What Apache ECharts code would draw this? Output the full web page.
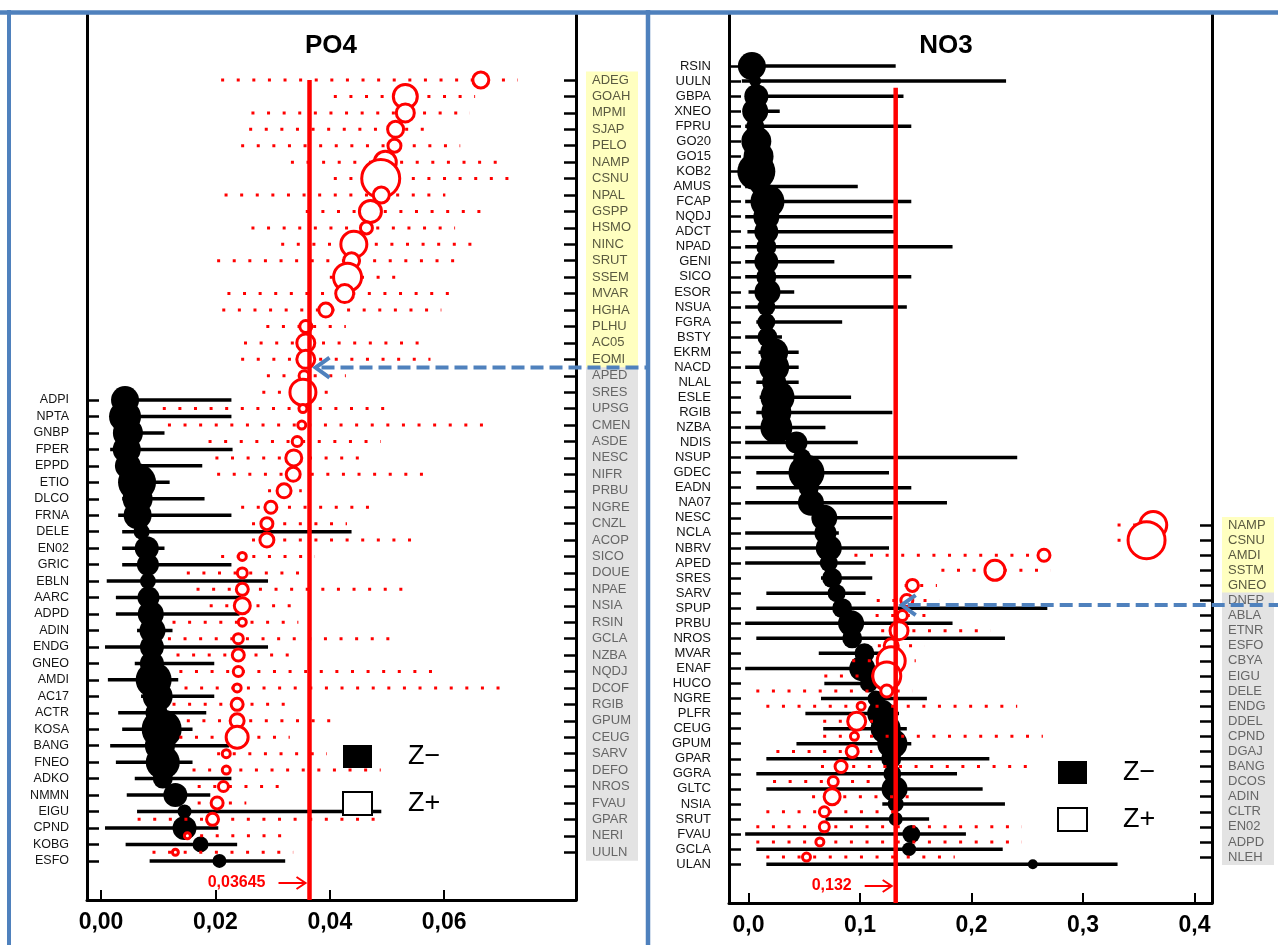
<!DOCTYPE html>
<html>
<head>
<meta charset="utf-8">
<script src="https://cdn.jsdelivr.net/npm/echarts@6/dist/echarts.min.js"></script>
<style>html,body{margin:0;padding:0;background:#fff;}#chart{width:1278px;height:945px;}</style>
</head>
<body>
<div id="chart"></div>
<script>
// ---------------- DATA ----------------
const po4Title = 'PO4';
const no3Title = 'NO3';
const po4Threshold = 0.03645;
const no3Threshold = 0.132;
const po4ThresholdText = '0,03645';
const no3ThresholdText = '0,132';
const po4Ticks = [0, 0.02, 0.04, 0.06];
const no3Ticks = [0, 0.1, 0.2, 0.3, 0.4];
const legendNames = ['Z\u2212', 'Z+'];

// PO4, Z- group (black)
const po4MinusLabels = ['ADPI','NPTA','GNBP','FPER','EPPD','ETIO','DLCO','FRNA','DELE','EN02','GRIC','EBLN','AARC','ADPD','ADIN','ENDG','GNEO','AMDI','AC17','ACTR','KOSA','BANG','FNEO','ADKO','NMMN','EIGU','CPND','KOBG','ESFO'];
const po4MinusValue = [0.0042,0.0042,0.0047,0.0045,0.0047,0.0063,0.0064,0.0064,0.0071,0.0080,0.0082,0.0082,0.0083,0.0087,0.0090,0.0089,0.0089,0.0092,0.0099,0.0097,0.0106,0.0103,0.0108,0.0108,0.0130,0.0146,0.0146,0.0174,0.0207];
const po4MinusLow = [0.0024,0.0024,0.0030,0.0016,0.0030,0.0040,0.0037,0.0030,0.0037,0.0037,0.0037,0.0010,0.0026,0.0026,0.0063,0.0007,0.0059,0.0012,0.0070,0.0030,0.0037,0.0016,0.0026,0.0059,0.0045,0.0063,0.0007,0.0043,0.0085];
const po4MinusHigh = [0.0228,0.0228,0.0111,0.0230,0.0177,0.0120,0.0181,0.0228,0.0438,0.0111,0.0228,0.0292,0.0245,0.0242,0.0125,0.0292,0.0198,0.0135,0.0198,0.0184,0.0160,0.0224,0.0160,0.0228,0.0191,0.0490,0.0205,0.0238,0.0322];
const po4MinusWeight = [14,16,15,14,13,19,15,14,8,12,11,8,11,13,13,12,12,18,15,11,20,15,17,10,12,7,12,8,7];

// PO4, Z+ group (red)
const po4PlusLabels = ['ADEG','GOAH','MPMI','SJAP','PELO','NAMP','CSNU','NPAL','GSPP','HSMO','NINC','SRUT','SSEM','MVAR','HGHA','PLHU','AC05','EOMI','APED','SRES','UPSG','CMEN','ASDE','NESC','NIFR','PRBU','NGRE','CNZL','ACOP','SICO','DOUE','NPAE','NSIA','RSIN','GCLA','NZBA','NQDJ','DCOF','RGIB','GPUM','CEUG','SARV','DEFO','NROS','FVAU','GPAR','NERI','UULN'];
const po4PlusValue = [0.0664,0.0532,0.0532,0.0515,0.0513,0.0497,0.0489,0.0490,0.0471,0.0464,0.0442,0.0438,0.0431,0.0426,0.0393,0.0358,0.0358,0.0358,0.0355,0.0353,0.0353,0.0351,0.0343,0.0337,0.0336,0.0320,0.0297,0.0290,0.0290,0.0247,0.0247,0.0247,0.0247,0.0247,0.0240,0.0240,0.0240,0.0238,0.0238,0.0238,0.0238,0.0219,0.0219,0.0214,0.0203,0.0195,0.0151,0.0130];
const po4PlusLow = [0.0210,0.0407,0.0263,0.0259,0.0245,0.0332,0.0407,0.0216,0.0358,0.0263,0.0315,0.0203,0.0400,0.0221,0.0212,0.0289,0.0250,0.0245,0.0290,0.0282,0.0108,0.0117,0.0188,0.0200,0.0203,0.0292,0.0245,0.0264,0.0264,0.0210,0.0150,0.0167,0.0190,0.0125,0.0117,0.0132,0.0137,0.0146,0.0125,0.0150,0.0137,0.0203,0.0160,0.0169,0.0169,0.0064,0.0146,0.0090];
const po4PlusHigh = [0.0729,0.0654,0.0645,0.0586,0.0628,0.0711,0.0734,0.0602,0.0685,0.0619,0.0668,0.0638,0.0517,0.0630,0.0595,0.0428,0.0577,0.0576,0.0428,0.0417,0.0517,0.0689,0.0489,0.0471,0.0584,0.0351,0.0490,0.0430,0.0563,0.0374,0.0368,0.0546,0.0350,0.0345,0.0525,0.0340,0.0598,0.0717,0.0330,0.0417,0.0330,0.0395,0.0489,0.0332,0.0254,0.0499,0.0332,0.0336];
const po4PlusWeight = [9,13,10,9,7.5,12,20,9,12,7,14,9,15,10,8,7,10,10,6,14,5,5,6,9,8,8,7,7,8,5,6,7,9,5,6,7,6,5,7,8,12,5,5,6,7,7,4,4];
const po4PlusHighlighted = 18; // first labels shown on yellow

// NO3, Z- group (black)
const no3MinusLabels = ['RSIN','UULN','GBPA','XNEO','FPRU','GO20','GO15','KOB2','AMUS','FCAP','NQDJ','ADCT','NPAD','GENI','SICO','ESOR','NSUA','FGRA','BSTY','EKRM','NACD','NLAL','ESLE','RGIB','NZBA','NDIS','NSUP','GDEC','EADN','NA07','NESC','NCLA','NBRV','APED','SRES','SARV','SPUP','PRBU','NROS','MVAR','ENAF','HUCO','NGRE','PLFR','CEUG','GPUM','GPAR','GGRA','GLTC','NSIA','SRUT','FVAU','GCLA','ULAN'];
const no3MinusValue = [0.003,0.006,0.007,0.006,0.006,0.007,0.009,0.007,0.009,0.017,0.016,0.016,0.016,0.016,0.016,0.017,0.016,0.016,0.017,0.023,0.023,0.023,0.026,0.025,0.025,0.043,0.048,0.052,0.054,0.056,0.068,0.069,0.072,0.072,0.075,0.079,0.084,0.092,0.093,0.104,0.102,0.108,0.114,0.119,0.123,0.129,0.128,0.129,0.131,0.132,0.132,0.146,0.144,0.255];
const no3MinusLow = [0.000,-0.006,-0.002,-0.002,-0.003,-0.003,-0.003,-0.003,-0.003,-0.003,-0.003,-0.001,-0.003,-0.003,-0.003,0.000,-0.003,0.007,-0.003,0.009,-0.003,0.007,0.010,0.007,-0.003,-0.003,-0.003,0.007,0.007,-0.003,0.060,-0.003,-0.003,-0.003,0.065,0.016,0.007,-0.003,0.007,0.063,-0.003,0.068,0.065,0.051,0.067,0.043,0.016,0.007,0.016,0.120,0.069,-0.003,0.007,0.016];
const no3MinusHigh = [0.132,0.231,0.139,0.028,0.146,0.018,0.020,0.020,0.098,0.146,0.129,0.132,0.183,0.077,0.146,0.041,0.142,0.084,0.030,0.045,0.045,0.045,0.092,0.129,0.069,0.098,0.241,0.126,0.146,0.178,0.129,0.081,0.126,0.105,0.111,0.105,0.268,0.183,0.230,0.135,0.114,0.126,0.160,0.135,0.142,0.146,0.216,0.187,0.210,0.230,0.162,0.195,0.228,0.331];
const no3MinusWeight = [14,6,12,13,9,15,15,19,8,17,13,12,10,12,10,13,9,9,10,14,15,12,17,15,16,11,9,18,10,13,13,11,13,9,10,9,10,13,10,10,13,9,8,14,15,15,10,9,13,8,7,9,7,5];

// NO3, Z+ group (red)
const no3PlusLabels = ['NAMP','CSNU','AMDI','SSTM','GNEO','DNEP','ABLA','ETNR','ESFO','CBYA','EIGU','DELE','ENDG','DDEL','CPND','DGAJ','BANG','DCOS','ADIN','CLTR','EN02','ADPD','NLEH'];
const no3PlusValue = [0.363,0.357,0.265,0.221,0.147,0.142,0.138,0.135,0.128,0.128,0.124,0.124,0.101,0.097,0.095,0.093,0.083,0.076,0.075,0.068,0.068,0.064,0.052];
const no3PlusLow = [0.331,0.331,0.095,0.173,0.140,0.115,0.114,0.119,0.116,0.093,0.068,0.007,0.016,0.067,0.067,0.025,0.065,0.022,0.057,0.016,0.007,0.007,0.016];
const no3PlusHigh = [0.370,0.360,0.265,0.271,0.169,0.171,0.169,0.217,0.158,0.150,0.137,0.147,0.241,0.115,0.264,0.111,0.259,0.111,0.154,0.135,0.245,0.245,0.185];
const no3PlusWeight = [14.5,19.5,7,11,7,7,6,10,8,15,15,7,5,10,5,7,7,6,9,6,6,5,5];
const no3PlusHighlighted = 5;

// ---------------- LAYOUT / STYLE ----------------
const FONT = "'Liberation Sans', Arial, Helvetica, sans-serif";
const RED = '#ff0000';
const BLUE = '#4F81BD';
const L = {
  po4: {left: 87, width: 489, frameTop: 15, frameH: 885, plusTop: 71.8, plusStep: 16.43, minusTop: 391.8, minusStep: 16.46, min: -0.00245, max: 0.08304, lineTop: 0.9266, arrowRow: 17.5, arrowEnd: 648, titleX: 331, legendX: 342, legendY: 743},
  no3: {left: 729, width: 483, frameTop: 15, frameH: 888, plusTop: 517.5, plusStep: 15.09, minusTop: 58.5, minusStep: 15.06, min: -0.0175, max: 0.4157, lineTop: 0.918, arrowRow: 5.3, arrowEnd: 1278, titleX: 946, legendX: 1057, legendY: 759}
};

const chart = echarts.init(document.getElementById('chart'), null, {renderer: 'canvas'});

function comma(dec) { return v => Number(v).toFixed(dec).replace('.', ','); }

function rangeRenderer(color, dotted) {
  return function (params, api) {
    const a = api.coord([api.value(0), api.value(2)]);
    const b = api.coord([api.value(1), api.value(2)]);
    return {
      type: 'line',
      shape: {x1: a[0], y1: a[1], x2: b[0], y2: b[1]},
      style: dotted
        ? {stroke: color, lineWidth: 3, lineDash: [3, 12.6], lineCap: 'butt'}
        : {stroke: color, lineWidth: 3.5, lineCap: 'butt'}
    };
  };
}

function boxRich(step) {
  const base = {fontSize: 13, fontFamily: FONT, width: 41, height: step + 0.8, lineHeight: step + 0.8, padding: [0, 5, 0, 6], align: 'left'};
  return {
    y: Object.assign({}, base, {backgroundColor: '#FFFFC0', color: '#5a5a40'}),
    g: Object.assign({}, base, {backgroundColor: '#E3E3E3', color: '#666666'})
  };
}

const grids = [], xAxes = [], yAxes = [], series = [];

function buildPanel(cfg, ticks, dec, minus, plus, threshold, highlighted, fontMinus) {
  const g0 = grids.length;
  grids.push({left: cfg.left, width: cfg.width, top: cfg.frameTop, height: cfg.frameH});
  grids.push({left: cfg.left, width: cfg.width, top: cfg.plusTop, height: plus.labels.length * cfg.plusStep});
  grids.push({left: cfg.left, width: cfg.width, top: cfg.minusTop, height: minus.labels.length * cfg.minusStep});
  const x0 = xAxes.length, y0 = yAxes.length;
  // frame x axis
  xAxes.push({
    type: 'value', gridIndex: g0, min: cfg.min, max: cfg.max, position: 'bottom',
    axisLine: {show: true, onZero: false, lineStyle: {color: '#000', width: 3}},
    axisTick: {show: true, inside: true, length: 10, lineStyle: {color: '#000', width: 2}, customValues: ticks},
    axisLabel: {customValues: ticks, formatter: comma(dec), fontSize: 23, fontWeight: 'bold', color: '#000', fontFamily: FONT, margin: 11},
    splitLine: {show: false}
  });
  xAxes.push({type: 'value', gridIndex: g0 + 1, min: cfg.min, max: cfg.max, show: false, axisLine: {onZero: false}, splitLine: {show: false}});
  xAxes.push({type: 'value', gridIndex: g0 + 2, min: cfg.min, max: cfg.max, show: false, axisLine: {onZero: false}, splitLine: {show: false}});
  // frame y axes
  ['left', 'right'].forEach(pos => yAxes.push({
    type: 'value', gridIndex: g0, min: 0, max: 1, position: pos,
    axisLine: {show: true, onZero: false, lineStyle: {color: '#000', width: 3}},
    axisTick: {show: false}, axisLabel: {show: false}, splitLine: {show: false}
  }));
  // Z+ category axis (right)
  yAxes.push({
    type: 'category', gridIndex: g0 + 1, data: plus.labels, inverse: true, position: 'right',
    axisLine: {show: false, onZero: false},
    axisTick: {show: true, inside: true, length: 12, alignWithLabel: true, interval: 0, lineStyle: {color: '#000', width: 2.5}},
    axisLabel: {interval: 0, margin: 10, formatter: (v, i) => (i < highlighted ? '{y|' : '{g|') + v + '}', rich: boxRich(cfg.plusStep)},
    splitLine: {show: false}
  });
  // Z- category axis (left)
  yAxes.push({
    type: 'category', gridIndex: g0 + 2, data: minus.labels, inverse: true, position: 'left',
    axisLine: {show: false, onZero: false},
    axisTick: {show: true, inside: true, length: 12, alignWithLabel: true, interval: 0, lineStyle: {color: '#000', width: 2.5}},
    axisLabel: {interval: 0, margin: 18, fontSize: fontMinus, color: '#151515', fontFamily: FONT},
    splitLine: {show: false}
  });

  // Z- ranges & bubbles
  series.push({
    type: 'custom', name: 'minusRange', xAxisIndex: x0 + 2, yAxisIndex: y0 + 3, z: 2, silent: true,
    data: minus.labels.map((n, i) => [minus.low[i], minus.high[i], i]),
    encode: {x: [0, 1], y: 2}, renderItem: rangeRenderer('#000', false)
  });
  series.push({
    type: 'scatter', name: legendNames[0], xAxisIndex: x0 + 2, yAxisIndex: y0 + 3, z: 3, silent: true,
    data: minus.labels.map((n, i) => [minus.value[i], i, minus.weight[i]]),
    symbol: 'circle', symbolSize: d => d[2] * 2,
    itemStyle: {color: '#000', opacity: 1}
  });
  // Z+ ranges & bubbles
  series.push({
    type: 'custom', name: 'plusRange', xAxisIndex: x0 + 1, yAxisIndex: y0 + 2, z: 4, silent: true,
    data: plus.labels.map((n, i) => [plus.low[i], plus.high[i], i]),
    encode: {x: [0, 1], y: 2}, renderItem: rangeRenderer(RED, true)
  });
  series.push({
    type: 'scatter', name: legendNames[1], xAxisIndex: x0 + 1, yAxisIndex: y0 + 2, z: 5, silent: true,
    data: plus.labels.map((n, i) => [plus.value[i], i, plus.weight[i]]),
    symbol: 'circle', symbolSize: d => d[2] * 2 - 2,
    itemStyle: {color: '#ffffff', borderColor: RED, borderWidth: 3, opacity: 1}
  });
  // threshold line
  series.push({
    type: 'line', xAxisIndex: x0, yAxisIndex: y0, z: 10, silent: true,
    data: [[threshold, 0], [threshold, cfg.lineTop]], symbol: 'none',
    lineStyle: {color: RED, width: 4.5}
  });
  return {frameGrid: g0, plusGrid: g0 + 1};
}

const pPO4 = buildPanel(L.po4, po4Ticks, 2,
  {labels: po4MinusLabels, value: po4MinusValue, low: po4MinusLow, high: po4MinusHigh, weight: po4MinusWeight},
  {labels: po4PlusLabels, value: po4PlusValue, low: po4PlusLow, high: po4PlusHigh, weight: po4PlusWeight},
  po4Threshold, po4PlusHighlighted, 12.5);
const pNO3 = buildPanel(L.no3, no3Ticks, 1,
  {labels: no3MinusLabels, value: no3MinusValue, low: no3MinusLow, high: no3MinusHigh, weight: no3MinusWeight},
  {labels: no3PlusLabels, value: no3PlusValue, low: no3PlusLow, high: no3PlusHigh, weight: no3PlusWeight},
  no3Threshold, no3PlusHighlighted, 13);

function legendFor(cfg) {
  return {
    left: cfg.legendX, top: cfg.legendY, orient: 'vertical', padding: 0,
    itemWidth: 29, itemHeight: 23, itemGap: 20, selectedMode: false,
    data: [
      {name: legendNames[0], icon: 'rect', itemStyle: {color: '#000', borderWidth: 0}},
      {name: legendNames[1], icon: 'rect', itemStyle: {color: '#fff', borderColor: '#000', borderWidth: 2}}
    ],
    textStyle: {fontSize: 27, color: '#000', fontFamily: FONT, padding: [0, 0, 0, 31]}
  };
}

chart.setOption({
  animation: false,
  backgroundColor: '#fff',
  title: [
    {text: po4Title, left: L.po4.titleX, top: 33, textAlign: 'center', padding: 0, textStyle: {fontSize: 26, fontWeight: 'bold', color: '#000', fontFamily: FONT}},
    {text: no3Title, left: L.no3.titleX, top: 33, textAlign: 'center', padding: 0, textStyle: {fontSize: 26, fontWeight: 'bold', color: '#000', fontFamily: FONT}}
  ],
  legend: [legendFor(L.po4), legendFor(L.no3)],
  grid: grids,
  xAxis: xAxes,
  yAxis: yAxes,
  series: series
});

// ---------------- ANNOTATIONS ----------------
function annotations(panel, cfg, threshold, text) {
  const bottom = chart.convertToPixel({gridIndex: panel.frameGrid}, [threshold, 0]);
  const lx = bottom[0], ty = bottom[1] - 17;
  const r0 = chart.convertToPixel({gridIndex: panel.plusGrid}, [threshold, Math.floor(cfg.arrowRow)]);
  const r1 = chart.convertToPixel({gridIndex: panel.plusGrid}, [threshold, Math.floor(cfg.arrowRow) + 1]);
  const f = cfg.arrowRow - Math.floor(cfg.arrowRow);
  const ay = r0[1] + (r1[1] - r0[1]) * f;
  const tip = lx + 4;
  return [
    {type: 'text', z: 100, x: lx - 44, y: ty, style: {text: text, fill: RED, font: 'bold 16px ' + FONT, textAlign: 'right', textVerticalAlign: 'middle', align: 'right', verticalAlign: 'middle'}},
    {type: 'polyline', z: 100, shape: {points: [[lx - 31, ty], [lx - 4, ty]]}, style: {stroke: RED, lineWidth: 2, fill: null}},
    {type: 'polyline', z: 100, shape: {points: [[lx - 13, ty - 6], [lx - 4, ty], [lx - 13, ty + 6]]}, style: {stroke: RED, lineWidth: 2, fill: null}},
    {type: 'line', z: 100, shape: {x1: tip + 8, y1: ay, x2: cfg.arrowEnd, y2: ay}, style: {stroke: BLUE, lineWidth: 4, lineDash: [13, 6]}},
    {type: 'polyline', z: 100, shape: {points: [[tip + 16, ay - 10], [tip + 2, ay], [tip + 16, ay + 10]]}, style: {stroke: BLUE, lineWidth: 4, fill: null}}
  ];
}

const frameLines = [
  {type: 'line', z: 90, shape: {x1: 0, y1: 12.5, x2: 1278, y2: 12.5}, style: {stroke: BLUE, lineWidth: 4.5}},
  {type: 'line', z: 90, shape: {x1: 9, y1: 10, x2: 9, y2: 945}, style: {stroke: BLUE, lineWidth: 4}},
  {type: 'line', z: 90, shape: {x1: 648, y1: 10, x2: 648, y2: 945}, style: {stroke: BLUE, lineWidth: 4.5}}
];

chart.setOption({
  graphic: frameLines
    .concat(annotations(pPO4, L.po4, po4Threshold, po4ThresholdText))
    .concat(annotations(pNO3, L.no3, no3Threshold, no3ThresholdText))
});
</script>
</body>
</html>
